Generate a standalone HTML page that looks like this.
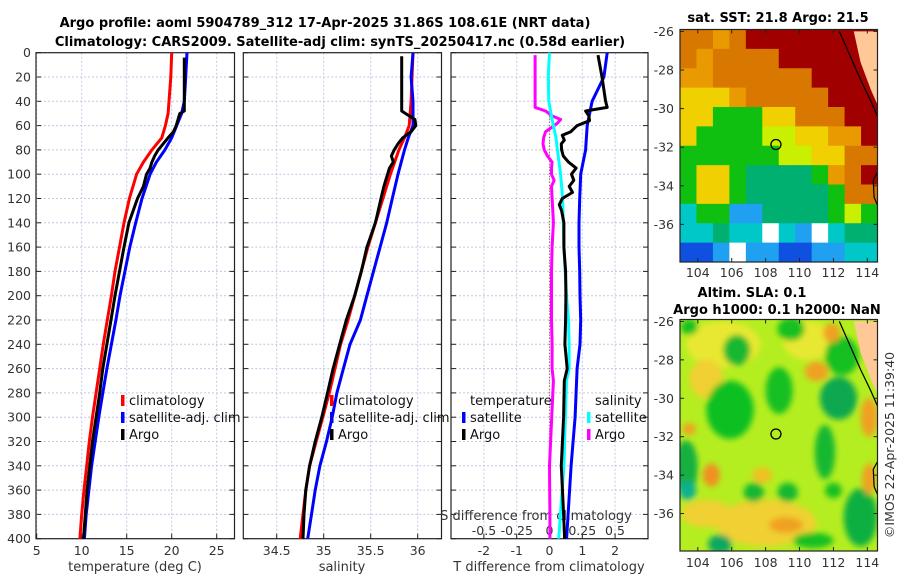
<!DOCTYPE html>
<html><head><meta charset="utf-8">
<style>
html,body{margin:0;padding:0;background:#fff;}
svg{display:block;font-family:"DejaVu Sans","Liberation Sans",sans-serif;}
.t{font-size:12.5px;fill:#333;}
.ti{font-size:13px;font-weight:bold;fill:#000;}
.lg{font-size:13px;fill:#111;}
</style></head>
<body>
<svg id="fig" width="900" height="580" viewBox="0 0 900 580">
<text class="ti" x="325" y="27" text-anchor="middle">Argo profile: aoml 5904789_312 17-Apr-2025 31.86S 108.61E (NRT data)</text>
<text class="ti" x="340" y="46" text-anchor="middle">Climatology: CARS2009. Satellite-adj clim: synTS_20250417.nc (0.58d earlier)</text>
<text class="ti" x="778" y="22" text-anchor="middle">sat. SST: 21.8 Argo: 21.5</text>
<text class="ti" x="752" y="297" text-anchor="middle">Altim. SLA: 0.1</text>
<text class="ti" x="777" y="314" text-anchor="middle">Argo h1000: 0.1 h2000: NaN</text>
<text class="t" x="0" y="0" transform="translate(894,445) rotate(-90)" text-anchor="middle">©IMOS 22-Apr-2025 11:39:40</text>
<g id="plots"></g>
</svg>
<script>
// ---- temperature panel data ----
const tClimDepth = [0,20,40,50,60,70,80,90,100,120,140,160,180,200,220,240,260,280,300,320,340,360,380,400];
const tClimVal   = [20.0,19.9,19.7,19.6,19.3,18.9,17.8,16.85,16.1,15.3,14.7,14.2,13.7,13.3,12.85,12.4,12.0,11.6,11.2,10.85,10.55,10.25,10.0,9.8];
const tSatDepth  = [0,20,40,50,60,70,80,90,100,120,140,160,180,200,220,240,260,280,300,320,340,360,380,400];
const tSatVal    = [21.7,21.55,21.4,21.1,20.55,20.0,19.25,18.3,17.6,16.7,16.0,15.35,14.8,14.25,13.8,13.3,12.8,12.35,11.9,11.5,11.1,10.8,10.5,10.3];
const tArgoDepth = [4,20,48,50,55,60,65,70,75,80,85,90,95,100,110,120,140,160,180,200,220,240,260,280,300,320,340,360,380,400];
const tArgoVal   = [21.4,21.4,21.4,20.9,20.7,20.5,20.2,19.6,19.05,18.5,18.1,17.8,17.6,17.2,16.85,16.2,15.25,14.7,14.2,13.7,13.25,12.8,12.35,12.0,11.6,11.2,10.9,10.6,10.4,10.2];
// ---- salinity panel data ----
const sClimDepth = [0,40,60,70,80,100,120,140,160,180,200,220,240,260,280,300,320,340,360,380,400];
const sClimVal   = [35.95,35.93,35.91,35.86,35.8,35.71,35.63,35.55,35.47,35.4,35.33,35.26,35.18,35.12,35.06,34.99,34.92,34.85,34.81,34.78,34.75];
const sSatDepth  = [0,20,40,60,70,80,100,120,140,160,180,200,220,240,260,280,300,320,340,360,380,400];
const sSatVal    = [35.95,35.93,35.95,35.95,35.9,35.86,35.79,35.73,35.67,35.6,35.53,35.46,35.39,35.28,35.21,35.14,35.09,35.03,34.96,34.91,34.87,34.83];
const sArgoDepth = [3,48,50,55,60,65,70,75,80,85,90,95,100,105,110,120,140,160,180,200,220,240,260,280,300,320,340,360,380,400];
const sArgoVal   = [35.83,35.83,35.87,35.97,35.98,35.93,35.84,35.79,35.75,35.72,35.74,35.7,35.68,35.66,35.64,35.61,35.55,35.46,35.4,35.33,35.24,35.17,35.1,35.04,34.98,34.91,34.85,34.81,34.79,34.78];
// ---- difference panel data ----
const dTSatDepth = [0,20,40,60,80,100,120,140,160,180,200,220,240,260,300,340,400];
const dTSatVal   = [1.76,1.66,1.3,1.15,1.1,0.95,0.92,0.9,0.9,0.92,0.93,0.95,0.93,0.84,0.78,0.66,0.52];
const dTArgoDepth = [2,20,40,45,48,52,56,60,65,68,72,75,80,85,90,95,100,105,110,115,120,125,130,140,160,180,200,220,240,260,270,300,340,380,400];
const dTArgoVal   = [1.48,1.6,1.71,1.76,1.1,1.2,1.22,0.84,0.65,0.39,0.45,0.36,0.37,0.42,0.58,0.81,0.67,0.74,0.6,0.7,0.39,0.3,0.37,0.44,0.44,0.49,0.5,0.49,0.47,0.54,0.45,0.43,0.36,0.43,0.46];
const dSSatDepth = [0,20,40,55,60,70,80,100,120,140,160,180,200,220,240,260,270,340,400];
const dSSatVal   = [0.0,-0.01,-0.005,0.02,0.03,0.05,0.06,0.085,0.1,0.105,0.11,0.12,0.13,0.145,0.15,0.15,0.13,0.11,0.07];
const dSArgoDepth = [2,45,48,52,55,58,62,65,70,75,80,85,90,95,100,105,110,120,130,140,160,180,200,220,240,260,270,340,380,400];
const dSArgoVal   = [-0.11,-0.11,-0.03,0.02,0.085,0.06,0.01,-0.03,-0.045,-0.05,-0.04,-0.015,0.02,0.015,0.015,0.035,0.015,0.02,0.025,0.03,0.02,0.015,0.015,0.015,0.02,0.02,0.03,0.0,0.003,0.003];
// ---- tick labels ----
const depthTicks = [0,20,40,60,80,100,120,140,160,180,200,220,240,260,280,300,320,340,360,380,400];
const tTicks = [5,10,15,20,25];
const sTicks = [34.5,35,35.5,36];
const dTTicks = [-2,-1,0,1,2];
const dSTicks = [-0.5,-0.25,0,0.25,0.5];
const dSTickLabels = ["-0.5","-0.25","0","0.25","0.5"];
const latTicks = [-26,-28,-30,-32,-34,-36];
const lonTicks = [104,106,108,110,112,114];
const argoLon = 108.61, argoLat = -31.86;

const NS='http://www.w3.org/2000/svg';
const root=document.getElementById('plots');
function mk(tag,attrs,parent){const e=document.createElementNS(NS,tag);for(const k in attrs)e.setAttribute(k,attrs[k]);(parent||root).appendChild(e);return e;}
const yD = d => 52.7 + d*1.215;
const P = [
 {x0:36,x1:234.5,sx:v=>36.7+(v-5)*9,name:'temperature-panel'},
 {x0:243.3,x1:441.5,sx:v=>276.7+(v-34.5)*94,name:'salinity-panel'},
 {x0:451,x1:648,sx:v=>549.5+v*32.8,name:'difference-panel'}
];
const sxS = v=>549.5+v*131;
const Y0=52.7, Y1=538.7;

P.forEach((p,i)=>{
  const g=mk('g',{});
  
  
  depthTicks.forEach(d=>{
    const l=mk('line',{x1:p.x0,x2:p.x1,y1:yD(d),y2:yD(d),stroke:'#c0c6e4','stroke-width':1,'stroke-dasharray':'2,2'},g);
    
    
    const t1=mk('line',{x1:p.x0,x2:p.x0+5,y1:yD(d),y2:yD(d),stroke:'#222'},g);
    
    
    const t2=mk('line',{x1:p.x1-5,x2:p.x1,y1:yD(d),y2:yD(d),stroke:'#222'},g);
    
    
  });
  const xt = i===0?tTicks:(i===1?sTicks:dTTicks);
  xt.forEach(v=>{
    const x=p.sx(v);
    const l=mk('line',{x1:x,x2:x,y1:Y0,y2:Y1,stroke:'#c0c6e4','stroke-width':1,'stroke-dasharray':'2,2'},g);
    
    
    const tk=mk('line',{x1:x,x2:x,y1:Y1-5,y2:Y1,stroke:'#222'},g);
    
    
    const tx=mk('text',{x:x,y:555,'text-anchor':'middle',class:'t'},g);
    tx.textContent=String(v);
    
    
  });
  const r=mk('rect',{x:p.x0,y:Y0,width:p.x1-p.x0,height:Y1-Y0,fill:'none',stroke:'#222','stroke-width':1.2},g);
  
  
});
depthTicks.forEach(d=>{
  const t=mk('text',{x:31,y:yD(d)+4.5,'text-anchor':'end',class:'t'});
  t.textContent=String(d);
  
  
});
[[135,'temperature (deg C)','temperature-axis-title'],[342,'salinity','salinity-axis-title'],[549,'T difference from climatology','t-difference-axis-title']].forEach(a=>{
  const t=mk('text',{x:a[0],y:571,'text-anchor':'middle',class:'t',style:'font-size:13px'});
  t.textContent=a[1];
  
  
});
const sAx=mk('text',{x:536,y:520,'text-anchor':'middle',class:'t',style:'font-size:13px'});
sAx.textContent='S difference from climatology';


dSTicks.forEach((v,k)=>{
  const t=mk('text',{x:sxS(v),y:535,'text-anchor':'middle',class:'t'});
  t.textContent=dSTickLabels[k];
  
  
});
const zl=mk('line',{x1:P[2].sx(0),x2:P[2].sx(0),y1:Y0,y2:Y1,stroke:'#806040','stroke-width':1.2,'stroke-dasharray':'1,2'});



function series(depths,vals,sx,color,name,w){
  const pts=depths.map((d,k)=>sx(vals[k]).toFixed(1)+','+yD(d).toFixed(1)).join(' ');
  const pl=mk('polyline',{points:pts,fill:'none',stroke:color,'stroke-width':w||3,'stroke-linejoin':'round'});
  
  
}
series(tClimDepth,tClimVal,P[0].sx,'#ff0000','temperature-climatology-line');
series(tSatDepth,tSatVal,P[0].sx,'#0000ff','temperature-satellite-line');
series(tArgoDepth,tArgoVal,P[0].sx,'#000000','temperature-argo-line');
series(sClimDepth,sClimVal,P[1].sx,'#ff0000','salinity-climatology-line');
series(sSatDepth,sSatVal,P[1].sx,'#0000ff','salinity-satellite-line');
series(sArgoDepth,sArgoVal,P[1].sx,'#000000','salinity-argo-line');
series(dSArgoDepth,dSArgoVal,sxS,'#ff00ff','salinity-argo-difference-line');
series(dSSatDepth,dSSatVal,sxS,'#00ffff','salinity-satellite-difference-line');
series(dTSatDepth,dTSatVal,P[2].sx,'#0000ff','temperature-satellite-difference-line');
series(dTArgoDepth,dTArgoVal,P[2].sx,'#000000','temperature-argo-difference-line');

function legend(x,y,color,label,name){
  if(color){const m=mk('rect',{x:x-8,y:y-10,width:3.5,height:11,fill:color});
    
    }
  const t=mk('text',{x:x,y:y,class:'lg'});
  t.textContent=label;
  
  
}
legend(129,405,'#ff0000','climatology','legend-temp-climatology');
legend(129,422,'#0000ff','satellite-adj. clim','legend-temp-satellite');
legend(129,439,'#000000','Argo','legend-temp-argo');
legend(338,405,'#ff0000','climatology','legend-sal-climatology');
legend(338,422,'#0000ff','satellite-adj. clim','legend-sal-satellite');
legend(338,439,'#000000','Argo','legend-sal-argo');
legend(470,405,null,'temperature','legend-diff-temperature-heading');
legend(470,422,'#0000ff','satellite','legend-diff-temp-satellite');
legend(470,439,'#000000','Argo','legend-diff-temp-argo');
legend(595,405,null,'salinity','legend-diff-salinity-heading');
legend(595,422,'#00ffff','satellite','legend-diff-sal-satellite');
legend(595,439,'#ff00ff','Argo','legend-diff-sal-argo');

// ---- maps ----
const C={R:'#a00000',O:'#d87800',A:'#e89a00',Y:'#f0d000',L:'#c8f000',G:'#10c010',T:'#00b070',C:'#00c8c8',B:'#20a0f0',D:'#1050e0',W:'#ffffff'};
const sstRows=[
"OOAORRRRRRRR",
"OAOOOORRRRRR",
"AAOOOOOORRRR",
"YYYAOOOOORRR",
"YYGGGYYOOORR",
"YGGGGLLYYAAR",
"GGGGGGLLYYOO",
"GYYGTTTTGAOR",
"GYYGTTTTTGOO",
"CGGBBTTTTGLG",
"CCTCCWCBWCTT",
"DDBWBBDDBBCC"];
function mapFrame(x0,y0,x1,y1,latA,latB,name){
  const g=mk('g',{});
  
  
  const lonX=v=>x0+(v-102.95)/(114.6-102.95)*(x1-x0);
  const latY=v=>y0+(latA-v)/(latA-latB)*(y1-y0);
  return {g,lonX,latY,x0,y0,x1,y1};
}
function axesFor(m,labY){
  latTicks.forEach(v=>{
    const y=m.latY(v);
    mk('line',{x1:m.x0,x2:m.x0+4,y1:y,y2:y,stroke:'#222'},m.g);
    mk('line',{x1:m.x1-4,x2:m.x1,y1:y,y2:y,stroke:'#222'},m.g);
    const t=mk('text',{x:m.x0-6,y:y+4.5,'text-anchor':'end',class:'t'},m.g);
    t.textContent=String(v);
    
    
  });
  lonTicks.forEach(v=>{
    const x=m.lonX(v);
    mk('line',{x1:x,x2:x,y1:m.y1-4,y2:m.y1,stroke:'#222'},m.g);
    mk('line',{x1:x,x2:x,y1:m.y0,y2:m.y0+4,stroke:'#222'},m.g);
    const t=mk('text',{x:x,y:labY,'text-anchor':'middle',class:'t'},m.g);
    t.textContent=String(v);
    
    
  });
  const r=mk('rect',{x:m.x0,y:m.y0,width:m.x1-m.x0,height:m.y1-m.y0,fill:'none',stroke:'#222','stroke-width':1.2},m.g);
  
  
  const c=mk('circle',{cx:m.lonX(argoLon),cy:m.latY(argoLat),r:5,fill:'none',stroke:'#000','stroke-width':1.3},m.g);
  
  
}
function coast(m){
  const pts=[[113.2,-26],[114.6,-26],[114.6,-29.8],[114.2,-29],[113.6,-27.6]].map(p=>m.lonX(p[0])+','+m.latY(p[1])).join(' ');
  const land=mk('polygon',{points:pts,fill:'#ffc896'},m.g);
  
  
  const cl=[[112.35,-26],[113,-27.3],[113.6,-28.5],[114.2,-29.6],[114.6,-30.4]].map(p=>m.lonX(p[0])+','+m.latY(p[1])).join(' ');
  const l=mk('polyline',{points:cl,fill:'none',stroke:'#000','stroke-width':1.2},m.g);
  
  
  const l2=mk('polyline',{points:[[114.6,-33.3],[114.35,-33.7],[114.4,-34.6],[114.6,-35]].map(p=>m.lonX(p[0])+','+m.latY(p[1])).join(' '),fill:'none',stroke:'#000','stroke-width':1.2},m.g);
  
  
}
const m1=mapFrame(680,29.5,877.5,262,-25.9,-37.95,'sst-map');
const cw=(m1.x1-m1.x0)/12, ch=(m1.y1-m1.y0)/12;
sstRows.forEach((row,r)=>{[...row].forEach((k,c)=>{
  const e=mk('rect',{x:m1.x0+c*cw,y:m1.y0+r*ch,width:cw+0.5,height:ch+0.5,fill:C[k]},m1.g);
  
  
});});
coast(m1);
axesFor(m1,277);
const m2=mapFrame(680,319.5,877.5,551,-25.9,-37.95,'sla-map');
const defs=mk('defs',{});
const f=mk('filter',{id:'blur',x:'-50%',y:'-50%',width:'200%',height:'200%'},defs);
mk('feGaussianBlur',{stdDeviation:3},f);
const cp=mk('clipPath',{id:'clip2'},defs);
mk('rect',{x:m2.x0,y:m2.y0,width:m2.x1-m2.x0,height:m2.y1-m2.y0},cp);
mk('rect',{x:m2.x0,y:m2.y0,width:m2.x1-m2.x0,height:m2.y1-m2.y0,fill:'#b4ee20'},m2.g);
const bl=mk('g',{'clip-path':'url(#clip2)'},m2.g);
const blobG=mk('g',{filter:'url(#blur)'},bl);
const blobs=[
 [105.5,-27.2,2.2,1.2,'#e8e830'],[110.5,-27,1.5,1,'#e8e830'],[104.5,-29,1,1,'#f0d030'],[108,-36.5,3,1.2,'#f0d030'],[104.5,-36,1.5,0.7,'#f0d030'],
 [106.3,-27.5,0.8,0.8,'#18b830'],[105.9,-30.6,1.4,1.5,'#10c020'],[108.8,-29.6,0.8,1.2,'#18c020'],[112.3,-30,1.1,1.1,'#10a850'],
 [111.5,-32.8,0.6,1.4,'#18b830'],[103.3,-33.6,0.7,1.4,'#18b040'],[103.4,-34.8,0.5,0.5,'#10b090'],[107.3,-34.9,0.6,0.5,'#18b830'],
 [109.3,-34.9,0.6,0.5,'#18b830'],[105.3,-37.6,0.7,0.5,'#10a860'],[113.6,-36.2,1,1.5,'#10b040'],[112.5,-27.8,1,1,'#18c020'],
 [109.5,-26.4,0.8,0.6,'#18c020'],[103.5,-26.3,0.5,0.4,'#18c020'],[112,-34.8,0.5,0.4,'#18c020'],[110.8,-37.4,1.2,0.4,'#18c020'],
 [111,-28.6,0.7,0.5,'#f0a020'],[104.8,-34,0.5,0.6,'#f09020'],[103.5,-31.6,0.4,0.3,'#f0a020'],[109.2,-36.6,1,0.4,'#f0a020'],
 [114.1,-34.2,0.4,0.8,'#f0a020'],[114.1,-31,0.5,1,'#f0a020'],[111.9,-26.6,0.5,0.5,'#f0a020'],[107.8,-34,0.6,0.4,'#f0c020']];
blobs.forEach(b=>{
  const e=mk('ellipse',{cx:m2.lonX(b[0]),cy:m2.latY(b[1]),rx:b[2]*16.9,ry:b[3]*19.4,fill:b[4]},blobG);
  
  
});
const cg={g:bl,lonX:m2.lonX,latY:m2.latY};
coast(cg);
axesFor(m2,567);
</script>
</body></html>
